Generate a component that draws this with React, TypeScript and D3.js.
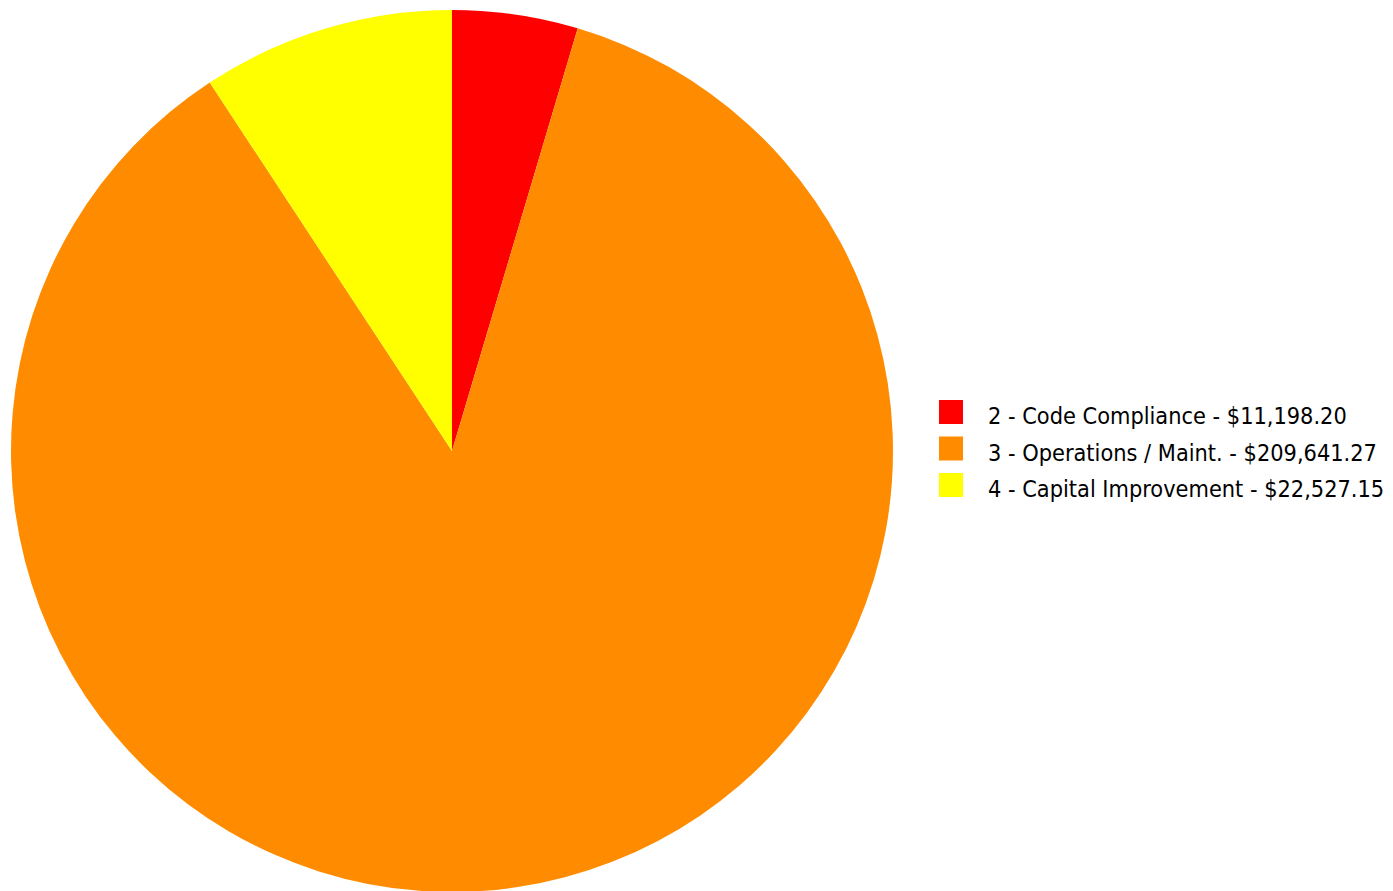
import React from "react";
import * as d3 from "d3";

const categories = ["2 - Code Compliance", "3 - Operations / Maint.", "4 - Capital Improvement"];
const values = [11198.2, 209641.27, 22527.15];
const colors = ["#ff0000", "#ff8c00", "#ffff00"];

export default function App() {
  const width = 1393;
  const height = 891;
  const cx = 452;
  const cy = 451;
  const r = 441;
  const data = categories.map((c, i) => ({ label: c, value: values[i], color: colors[i] }));
  const pie = d3.pie<any>().sort(null).value((d: any) => d.value);
  const arcs = pie(data);
  const arc = d3.arc<any>().innerRadius(0).outerRadius(r);
  const fmt = d3.format(",.2f");
  const legendX = 939;
  const legendY = 400;
  const step = 36.5;
  return (
    <svg width={width} height={height} style={{ position: "absolute", left: 0, top: 0 }}>
      <rect width={width} height={height} fill="#fff" />
      <g transform={`translate(${cx},${cy})`}>
        {arcs.map((a, i) => (
          <path key={i} d={arc(a) as string} fill={a.data.color} />
        ))}
      </g>
      <g>
        {data.map((d, i) => (
          <g key={i} transform={`translate(${legendX},${legendY + i * step})`}>
            <rect width={24} height={24} fill={d.color} />
            <text x={49} y={24} fontFamily="DejaVu Sans Condensed, DejaVu Sans" fontSize={23.3} fill="#000">
              {`${d.label} - $${fmt(d.value)}`}
            </text>
          </g>
        ))}
      </g>
    </svg>
  );
}
